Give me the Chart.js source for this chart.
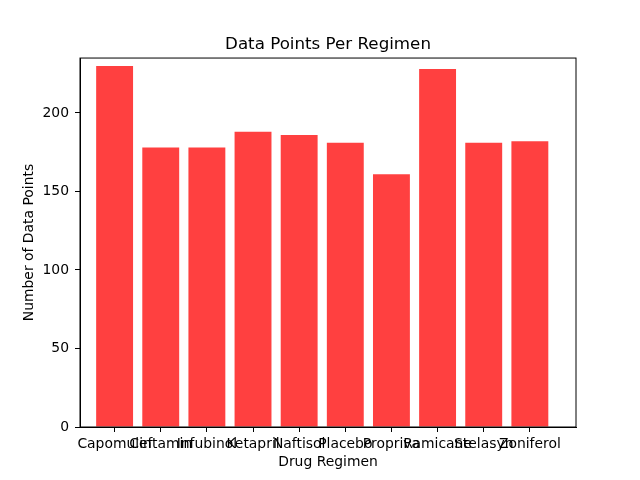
<!DOCTYPE html>
<html>
<head>
<meta charset="utf-8">
<script src="https://cdn.jsdelivr.net/npm/chart.js@4.4.0/dist/chart.umd.min.js"></script>
<style>
  html, body { margin: 0; padding: 0; background: #fff; }
  #wrap { width: 640px; height: 480px; }
</style>
</head>
<body>
<div id="wrap"><canvas id="grafico"></canvas></div>
<script>
const regimenes = ['Capomulin', 'Ceftamin', 'Infubinol', 'Ketapril', 'Naftisol',
  'Placebo', 'Propriva', 'Ramicane', 'Stelasyn', 'Zoniferol'];
const puntos = [230, 178, 178, 188, 186, 181, 161, 228, 181, 182];
const ticksY = [0, 50, 100, 150, 200];

const fuente = { family: 'DejaVu Sans', size: 13.9 };

// marco completo alrededor del area del grafico, como matplotlib
const marco = {
  id: 'marco',
  afterDraw(chart) {
    const { ctx, chartArea: a } = chart;
    ctx.save();
    ctx.strokeStyle = '#000';
    ctx.lineWidth = 1;
    ctx.strokeRect(a.left, a.top, a.right - a.left, a.bottom - a.top);
    ctx.restore();
  }
};

new Chart(document.getElementById('grafico'), {
  type: 'bar',
  data: {
    datasets: [{
      data: puntos.map((v, i) => ({ x: i, y: v })),
      backgroundColor: 'rgba(255, 0, 0, 0.75)',
      borderWidth: 0,
      barPercentage: 0.8,
      categoryPercentage: 1
    }]
  },
  options: {
    responsive: true,
    maintainAspectRatio: false,
    animation: false,
    layout: { padding: { left: 0, right: 64, top: 0, bottom: 0 } },
    plugins: {
      legend: { display: false },
      tooltip: { enabled: false },
      title: {
        display: true,
        fullSize: false,
        text: 'Data Points Per Regimen',
        color: '#000',
        font: { family: 'DejaVu Sans', size: 16.7, weight: 'normal' },
        padding: { top: 35, bottom: 3 }
      }
    },
    scales: {
      x: {
        type: 'linear',
        min: -0.75,
        max: 10,
        offset: false,
        afterBuildTicks: axis => { axis.ticks = regimenes.map((_, i) => ({ value: i })); },
        afterFit: scale => { scale.height = 53; },
        ticks: {
          autoSkip: false,
          maxRotation: 0,
          minRotation: 0,
          color: '#000',
          font: fuente,
          padding: 4,
          callback: v => regimenes[v]
        },
        grid: { display: true, offset: false, drawOnChartArea: false, color: '#000', tickLength: 5 },
        border: { display: true, color: '#000' },
        title: {
          display: true,
          text: 'Drug Regimen',
          color: '#000',
          font: fuente,
          padding: { top: 0, bottom: 9 }
        }
      },
      y: {
        min: 0,
        max: 235,
        afterBuildTicks: axis => { axis.ticks = ticksY.map(v => ({ value: v })); },
        afterFit: scale => { scale.width = 80; },
        ticks: { color: '#000', font: fuente, padding: 6 },
        grid: { display: true, drawOnChartArea: false, color: '#000', tickLength: 5 },
        border: { display: true, color: '#000' },
        title: {
          display: true,
          text: 'Number of Data Points',
          color: '#000',
          font: fuente,
          padding: { top: 21, bottom: 0 }
        }
      }
    }
  },
  plugins: [marco]
});
</script>
</body>
</html>
